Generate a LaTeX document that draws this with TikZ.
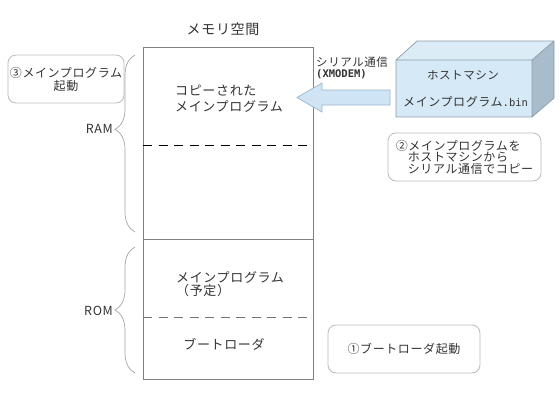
\documentclass[tikz,border=0pt]{standalone}
\usepackage{fontspec}
\setmainfont{Noto Sans CJK JP}[LetterSpace=5]
\newfontfamily\monof{DejaVu Sans Mono}
\usetikzlibrary{decorations.pathreplacing}
\definecolor{txt}{HTML}{333333}
\definecolor{rectline}{HTML}{808080}
\definecolor{boxline}{HTML}{BBBBBB}
\definecolor{front}{HTML}{D6E9F6}
\definecolor{topf}{HTML}{DCECF7}
\definecolor{sidef}{HTML}{A9BCCB}
\definecolor{cubeline}{HTML}{8C9CA8}
\definecolor{arrowfill}{HTML}{CFE4F4}
\definecolor{arrowline}{HTML}{9DB6CA}
\tikzset{
  jp/.style={font=\fontsize{13}{16}\selectfont, text=txt, inner sep=0pt},
  notebox/.style={draw=boxline, line width=0.8pt, rounded corners=8pt, fill=white},
  bracestyle/.style={draw=rectline!70, line width=0.7pt, decorate,
     decoration={brace, amplitude=20pt}},
}
\begin{document}
\begin{tikzpicture}[x=1pt,y=-1pt]
\useasboundingbox[fill=white] (0,0) rectangle (560,400);

% title
\node[jp, font=\fontsize{14}{16}\selectfont] (title) at (223,29) {メモリ空間};

% memory rectangle
\coordinate (tl) at (143,47);
\coordinate (br) at (313,379);
\draw[rectline, line width=0.9pt] (tl) rectangle (br);
\coordinate (ml) at (143,239);
\coordinate (mr) at (313,239);
\draw[rectline, line width=0.9pt] (ml) -- (mr);
\coordinate (d1l) at (143,145);
\coordinate (d1r) at (313,145);
\draw[black, line width=0.9pt, dash pattern=on 9pt off 6.5pt] (d1l) -- (d1r);
\coordinate (d2l) at (143,317);
\coordinate (d2r) at (313,317);
\draw[rectline!90!black, line width=0.9pt, dash pattern=on 9pt off 6.5pt] (d2l) -- (d2r);

% contents
\node[jp, anchor=west, align=left] (copied) at (175,99) {コピーされた\\メインプログラム};
\node[jp, anchor=west, align=left, font=\fontsize{13}{13}\selectfont] (planned) at (176,284) {メインプログラム\\（予定）};
\node[jp] (boot) at (224,344) {ブートローダ};

% braces
\coordinate (rb1) at (135,232);
\coordinate (rb2) at (135,55);
\draw[bracestyle, decoration={aspect=0.58}] (rb1) -- (rb2);
\coordinate (ob1) at (135,373);
\coordinate (ob2) at (135,247);
\draw[bracestyle, decoration={aspect=0.5}] (ob1) -- (ob2);
\node[jp, anchor=east, font=\fontsize{12.5}{14}\selectfont] (ram) at (113,129) {RAM};
\node[jp, anchor=east, font=\fontsize{12.5}{14}\selectfont] (rom) at (113,311) {ROM};

% note boxes
\node[notebox, jp, minimum width=116pt, minimum height=48pt, align=center,
      font=\fontsize{12}{13}\selectfont] (n3) at (66,79) {③メインプログラム\\起動};
\node[notebox, jp, minimum width=153pt, minimum height=48pt, align=left,
      font=\fontsize{12}{11.5}\selectfont] (n2) at (464.5,157)
      {②メインプログラムを\\\hspace*{1em}ホストマシンから\\\hspace*{1em}シリアル通信でコピー};
\node[notebox, jp, minimum width=152pt, minimum height=48pt, font=\fontsize{12}{14}\selectfont] (n1) at (404,349) {①ブートローダ起動};

% host machine cube
\coordinate (f1) at (396,60);
\coordinate (f2) at (532,60);
\coordinate (f3) at (532,117);
\coordinate (f4) at (396,117);
\coordinate (b1) at (417,41);
\coordinate (b2) at (554,41);
\coordinate (b3) at (554,98);
\fill[front] (f1) -- (f2) -- (f3) -- (f4) -- cycle;
\fill[topf] (f1) -- (b1) -- (b2) -- (f2) -- cycle;
\fill[sidef] (f2) -- (b2) -- (b3) -- (f3) -- cycle;
\draw[cubeline, line width=0.7pt, line join=round] (f4) -- (f1) -- (b1) -- (b2) -- (b3) -- (f3) -- cycle (f1) -- (f2) -- (b2) (f2) -- (f3);
\node[jp, font=\fontsize{11.5}{13}\selectfont] (host) at (463,75) {ホストマシン};
\node[jp, anchor=west, font=\fontsize{12}{13}\selectfont] (bin) at (403,102) {メインプログラム{\monof\fontsize{10.5}{12}\selectfont.bin}};

% big arrow
\coordinate (a1) at (390,90);
\coordinate (a2) at (322,90);
\coordinate (a3) at (322,83);
\coordinate (a4) at (297,97.5);
\coordinate (a5) at (322,112);
\coordinate (a6) at (322,105);
\coordinate (a7) at (390,105);
\draw[arrowline, fill=arrowfill, line width=0.7pt, line join=miter] (a1) -- (a2) -- (a3) -- (a4) -- (a5) -- (a6) -- (a7) -- cycle;

\node[jp, anchor=west, font=\fontsize{11.5}{13}\selectfont] (serial) at (316,62) {シリアル通信};
\node[jp, anchor=west, font=\monof\bfseries\fontsize{10.5}{12}\selectfont] (xmodem) at (316,74) {(XMODEM)};
\end{tikzpicture}
\end{document}
